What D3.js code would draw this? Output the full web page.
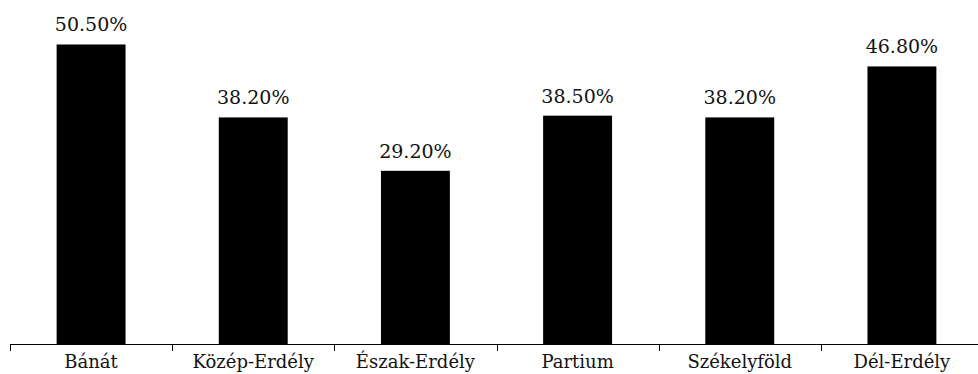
<!DOCTYPE html>
<html>
<head>
<meta charset="utf-8">
<script src="https://cdn.jsdelivr.net/npm/d3@7"></script>
<style>
  html, body { margin: 0; padding: 0; background: #fff; }
  svg { display: block; }
</style>
</head>
<body>
<svg id="chart" width="978" height="374"></svg>
<script>
// Regions and their share values (%)
const regions = ["Bánát", "Közép-Erdély", "Észak-Erdély", "Partium", "Székelyföld", "Dél-Erdély"];
const shares = [50.5, 38.2, 29.2, 38.5, 38.2, 46.8];

const width = 978, height = 374;
const baseline = 344;
const serif = "'DejaVu Serif', serif";

const svg = d3.select("#chart");

const x = d3.scaleBand()
  .domain(regions)
  .range([10, 983])
  .paddingInner(0.575)
  .paddingOuter(0.2875);

const y = d3.scaleLinear()
  .domain([0, 58])
  .range([baseline, 0]);

const data = regions.map((r, i) => ({ region: r, value: shares[i] }));

// Bars
svg.append("g")
  .selectAll("rect")
  .data(data)
  .join("rect")
  .attr("x", d => x(d.region))
  .attr("y", d => y(d.value))
  .attr("width", x.bandwidth())
  .attr("height", d => y(0) - y(d.value))
  .attr("fill", "#000");

// Value labels
svg.append("g")
  .selectAll("text")
  .data(data)
  .join("text")
  .attr("x", d => x(d.region) + x.bandwidth() / 2)
  .attr("y", d => y(d.value) - 13)
  .attr("text-anchor", "middle")
  .attr("font-family", serif)
  .attr("font-size", 19)
  .attr("fill", "#111")
  .text(d => d.value.toFixed(2) + "%");

// Category axis with tick marks between the categories
const step = x.step();
const edges = d3.range(regions.length + 1).map(i => 10 + i * step);

const axis = svg.append("g");
axis.append("line")
  .attr("x1", 10).attr("x2", width)
  .attr("y1", baseline + 0.5).attr("y2", baseline + 0.5)
  .attr("stroke", "#000").attr("stroke-width", 1);

axis.selectAll("line.tick")
  .data(edges)
  .join("line")
  .attr("class", "tick")
  .attr("x1", d => Math.round(d) + 0.5).attr("x2", d => Math.round(d) + 0.5)
  .attr("y1", baseline).attr("y2", baseline + 7)
  .attr("stroke", "#000").attr("stroke-width", 1);

axis.selectAll("text")
  .data(regions)
  .join("text")
  .attr("x", d => x(d) + x.bandwidth() / 2)
  .attr("y", 368)
  .attr("text-anchor", "middle")
  .attr("font-family", serif)
  .attr("font-size", 18)
  .attr("fill", "#111")
  .text(d => d);
</script>
</body>
</html>
